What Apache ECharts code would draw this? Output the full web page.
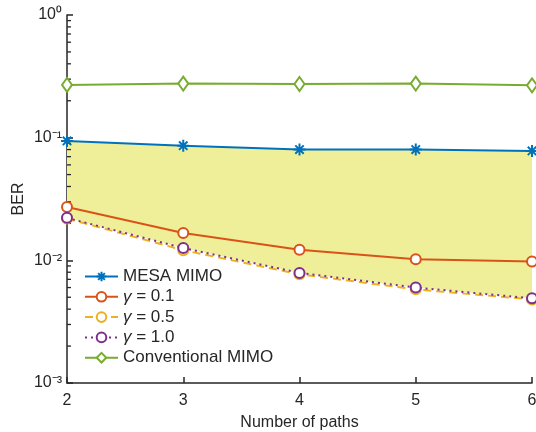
<!DOCTYPE html>
<html>
<head>
<meta charset="utf-8">
<script src="https://cdn.jsdelivr.net/npm/echarts@6/dist/echarts.min.js"></script>
<style>
    html, body { margin: 0; padding: 0; background: #fff; }
    #chart1 { width: 536px; height: 432px; }
</style>
</head>
<body>
<div id="chart1"></div>
<script>
// 数据
var pathCounts = [2, 3, 4, 5, 6];
var mesaMimo = [0.094, 0.086, 0.080, 0.080, 0.078];
var gamma01 = [0.0272, 0.0167, 0.0122, 0.0102, 0.0098];
var gamma05 = [0.0219, 0.0121, 0.0077, 0.0058, 0.0048];
var gamma10 = [0.0222, 0.0126, 0.0079, 0.0060, 0.0049];
var conventional = [0.269, 0.276, 0.274, 0.276, 0.267];
var minorTickVals = [];
for (var d = -3; d < 0; d++) {
    for (var m = 2; m <= 9; m++) {
        minorTickVals.push(m * Math.pow(10, d));
    }
}

var fontFamily = '"Liberation Sans", Arial, sans-serif';
var axisColor = '#262626';
var sup = { '0': '\u2070', '1': '\u00b9', '2': '\u00b2', '3': '\u00b3', '-': '\u207b' };

var mychart = echarts.init(document.getElementById('chart1'));

function pts(arr) {
    return pathCounts.map(function (x, i) { return [x, arr[i]]; });
}

var asterisk = 'path://M5,0L5,10M0,5L10,5M1.5,1.5L8.5,8.5M1.5,8.5L8.5,1.5';

var option = {
    animation: false,
    backgroundColor: '#fff',
    grid: { left: 67, right: 4, top: 15, bottom: 49, outerBoundsMode: 'none', containLabel: false },
    legend: {
        orient: 'vertical',
        left: 79,
        top: 263,
        itemWidth: 33,
        itemHeight: 12,
        itemGap: 3.3,
        data: ['MESA MIMO', 'γ = 0.1', 'γ = 0.5', 'γ = 1.0', 'Conventional MIMO'],
        formatter: function (name) {
            return name.replace('γ', '{i|γ}');
        },
        textStyle: {
            fontFamily: fontFamily,
            fontSize: 17,
            lineHeight: 17,
            color: axisColor,
            rich: { i: { fontStyle: 'italic', fontFamily: fontFamily, fontSize: 17, lineHeight: 17, color: axisColor } }
        }
    },
    xAxis: {
        type: 'value',
        min: 2,
        max: 6,
        interval: 1,
        name: 'Number of paths',
        nameLocation: 'middle',
        nameGap: 32,
        nameTextStyle: { fontFamily: fontFamily, fontSize: 16, color: axisColor },
        axisLine: { lineStyle: { color: axisColor, width: 1.5 } },
        axisTick: { inside: true, length: 6, lineStyle: { color: axisColor, width: 1.5 } },
        axisLabel: { fontFamily: fontFamily, fontSize: 16, color: axisColor, margin: 10 },
        splitLine: { show: false }
    },
    yAxis: {
        type: 'log',
        logBase: 10,
        min: 0.001,
        max: 1,
        name: 'BER',
        nameLocation: 'middle',
        nameGap: 40,
        nameMoveOverlap: false,
        nameTextStyle: { fontFamily: fontFamily, fontSize: 16, color: axisColor },
        axisLine: { show: true, lineStyle: { color: axisColor, width: 1.5 } },
        axisTick: { inside: true, length: 6, lineStyle: { color: axisColor, width: 1.5 } },
        axisLabel: {
            fontFamily: fontFamily,
            fontSize: 16,
            color: axisColor,
            margin: 5,
            formatter: function (v) {
                var e = String(Math.round(Math.log10(v)));
                var s = '';
                for (var k = 0; k < e.length; k++) s += sup[e[k]];
                return '10' + s;
            }
        },
        splitLine: { show: false }
    },
    series: [
        {
            // 黄色填充区域
            type: 'custom',
            silent: true,
            z: 1,
            data: pts(mesaMimo),
            renderItem: function (params, api) {
                if (params.dataIndex !== 0) return;
                var poly = [];
                for (var i = 0; i < pathCounts.length; i++) {
                    poly.push(api.coord([pathCounts[i], mesaMimo[i]]));
                }
                for (var j = pathCounts.length - 1; j >= 0; j--) {
                    poly.push(api.coord([pathCounts[j], gamma10[j]]));
                }
                return {
                    type: 'polygon',
                    shape: { points: poly },
                    style: { fill: 'rgb(239,239,153)' }
                };
            }
        },
        {
            // 对数次刻度
            type: 'custom',
            silent: true,
            z: 2,
            clip: false,
            data: minorTickVals.map(function (v) { return [2, v]; }),
            renderItem: function (params, api) {
                var p = api.coord([2, minorTickVals[params.dataIndex]]);
                return {
                    type: 'line',
                    shape: { x1: p[0], y1: p[1], x2: p[0] + 4, y2: p[1] },
                    style: { stroke: axisColor, lineWidth: 1.3 }
                };
            }
        },
        {
            name: 'MESA MIMO',
            type: 'line',
            z: 5,
            data: pts(mesaMimo),
            symbol: asterisk,
            symbolSize: 12,
            lineStyle: { color: '#0072BD', width: 2 },
            itemStyle: { color: '#0072BD', borderColor: '#0072BD', borderWidth: 2 }
        },
        {
            name: 'γ = 0.1',
            type: 'line',
            z: 5,
            data: pts(gamma01),
            symbol: 'emptyCircle',
            symbolSize: 10,
            lineStyle: { color: '#D95319', width: 2 },
            itemStyle: { color: '#D95319', borderColor: '#D95319', borderWidth: 1.8 }
        },
        {
            name: 'γ = 0.5',
            type: 'line',
            z: 5,
            data: pts(gamma05),
            symbol: 'emptyCircle',
            symbolSize: 10,
            lineStyle: { color: '#EDB120', width: 2, type: [8, 5] },
            itemStyle: { color: '#EDB120', borderColor: '#EDB120', borderWidth: 1.8 }
        },
        {
            name: 'γ = 1.0',
            type: 'line',
            z: 6,
            data: pts(gamma10),
            symbol: 'emptyCircle',
            symbolSize: 10,
            lineStyle: { color: '#7E2F8E', width: 2, type: [2, 4] },
            itemStyle: { color: '#7E2F8E', borderColor: '#7E2F8E', borderWidth: 1.8 }
        },
        {
            name: 'Conventional MIMO',
            type: 'line',
            z: 5,
            data: pts(conventional),
            symbol: 'emptyDiamond',
            symbolSize: [10, 14],
            lineStyle: { color: '#77AC30', width: 2 },
            itemStyle: { color: '#77AC30', borderColor: '#77AC30', borderWidth: 1.8 }
        }
    ]
};

mychart.setOption(option);
</script>
</body>
</html>
